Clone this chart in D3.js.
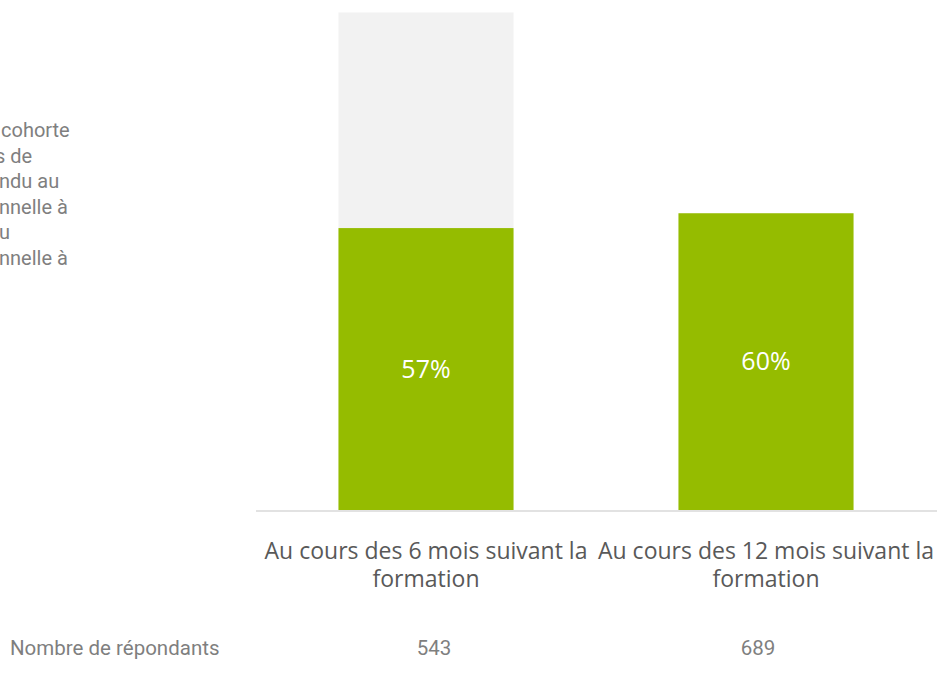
<!DOCTYPE html>
<html>
<head>
<meta charset="utf-8">
<script src="https://cdn.jsdelivr.net/npm/d3@7"></script>
<style>
  html, body { margin: 0; padding: 0; background: #fff; }
  svg { display: block; }
</style>
</head>
<body>
<svg id="chart" width="937" height="686"></svg>
<script>
// Categories and values
const categories = ["Au cours des 6 mois suivant la formation", "Au cours des 12 mois suivant la formation"];
const categoryLines = [["Au cours des 6 mois suivant la", "formation"], ["Au cours des 12 mois suivant la", "formation"]];
const greenValues = [0.57, 0.60];
const greyValues = [0.436, 0];
const respondents = [543, 689];
const respondentsLabel = "Nombre de répondants";
const sideNoteLines = ["cohorte", "s de", "ndu au", "nnelle à", "u", "nnelle à"];

const svg = d3.select("#chart");

const x = d3.scaleBand()
  .domain(categories)
  .range([256, 936])
  .paddingInner(0.485)
  .paddingOuter(0.2425);

const y = d3.scaleLinear().domain([0, 1]).range([510, 15.4]);

const rows = categories.map((c, i) => ({ cat: c, green: greenValues[i], grey: greyValues[i] }));
const stack = d3.stack().keys(["green", "grey"])(rows);
const colors = { green: "#95BC00", grey: "#F2F2F2" };

// grey remainder first so the green segment sits on top
["grey", "green"].forEach(key => {
  const layer = stack.find(s => s.key === key);
  svg.append("g").selectAll("rect")
    .data(layer.filter(d => d[1] - d[0] > 0))
    .join("rect")
    .attr("x", d => x(d.data.cat))
    .attr("width", x.bandwidth())
    .attr("y", d => y(d[1]))
    .attr("height", d => y(d[0]) - y(d[1]))
    .attr("fill", colors[key]);
});

const labelFont = "'Open Sans', sans-serif";

// value labels
svg.append("g").selectAll("text")
  .data(rows)
  .join("text")
  .attr("x", d => x(d.cat) + x.bandwidth() / 2)
  .attr("y", d => (y(0) + y(d.green)) / 2)
  .attr("dy", "0.35em")
  .attr("text-anchor", "middle")
  .attr("fill", "#ffffff")
  .attr("font-family", labelFont)
  .attr("font-size", 25)
  .text(d => d3.format(".0%")(d.green));

// baseline
svg.append("line")
  .attr("x1", 256).attr("x2", 937)
  .attr("y1", y(0) + 1).attr("y2", y(0) + 1)
  .attr("stroke", "#D9D9D9")
  .attr("stroke-width", 1.5);

// category labels (two lines each)
const catG = svg.append("g").selectAll("text")
  .data(categories)
  .join("text")
  .attr("x", d => x(d) + x.bandwidth() / 2)
  .attr("y", 559)
  .attr("text-anchor", "middle")
  .attr("fill", "#595959")
  .attr("font-family", labelFont)
  .attr("font-size", 23);
catG.each(function(d, i) {
  d3.select(this).selectAll("tspan")
    .data(categoryLines[i])
    .join("tspan")
    .attr("x", x(d) + x.bandwidth() / 2)
    .attr("dy", (t, j) => j === 0 ? 0 : 28)
    .text(t => t);
});

// respondents row
const tableX = d3.scalePoint().domain(categories).range([434, 758]);
svg.append("text")
  .attr("x", 10).attr("y", 655)
  .attr("fill", "#7F7F7F")
  .attr("font-family", "Roboto, sans-serif")
  .attr("font-size", 20.5)
  .text(respondentsLabel);
svg.append("g").selectAll("text")
  .data(respondents)
  .join("text")
  .attr("x", (d, i) => tableX(categories[i]))
  .attr("y", 655)
  .attr("text-anchor", "middle")
  .attr("fill", "#7F7F7F")
  .attr("font-family", "Roboto, sans-serif")
  .attr("font-size", 20.5)
  .text(d => d);

// side note, running off the left edge
const noteX = [1, -5, -1, -1, -1, -1];
svg.append("g").selectAll("text")
  .data(sideNoteLines)
  .join("text")
  .attr("x", (d, i) => noteX[i])
  .attr("y", (d, i) => 137 + i * 25.6)
  .attr("fill", "#7F7F7F")
  .attr("font-family", "Roboto, sans-serif")
  .attr("font-size", 20)
  .text(d => d);
</script>
</body>
</html>
